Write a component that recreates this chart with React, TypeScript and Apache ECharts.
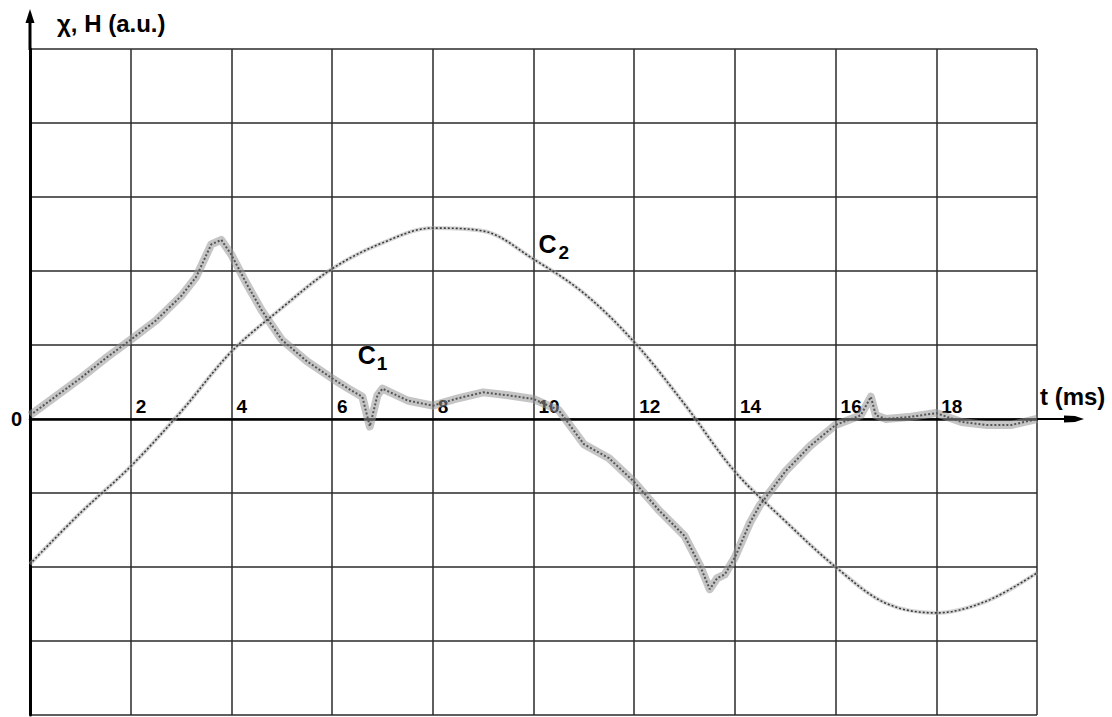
import React, { useEffect, useRef } from "react";
import * as echarts from "echarts";

// ---- Data (t in ms, value in a.u.; one grid cell = 1 a.u.) ----
const c1Time = [0, 0.5, 1, 1.5, 2, 2.5, 3, 3.3, 3.6, 3.8, 4, 4.3, 4.6, 5, 5.5, 6, 6.3, 6.6, 6.75, 6.9, 7, 7.5, 8, 8.5, 9, 9.5, 10, 10.5, 11, 11.5, 12, 12.5, 13, 13.3, 13.5, 13.65, 13.8, 14, 14.3, 14.5, 15, 15.5, 16, 16.5, 16.7, 16.8, 17, 17.5, 18, 18.5, 19, 19.5, 20];
const c1Value = [0.05, 0.3, 0.55, 0.82, 1.07, 1.33, 1.66, 1.92, 2.36, 2.42, 2.22, 1.83, 1.47, 1.07, 0.78, 0.55, 0.42, 0.3, -0.1, 0.32, 0.41, 0.25, 0.18, 0.28, 0.36, 0.32, 0.27, 0.12, -0.34, -0.53, -0.85, -1.24, -1.58, -1.97, -2.3, -2.15, -2.1, -1.87, -1.4, -1.16, -0.71, -0.36, -0.08, 0.05, 0.3, 0.05, 0.0, 0.03, 0.08, -0.04, -0.08, -0.08, 0.0];

const c2Time = [0, 1, 2, 3, 4, 5, 6, 7, 8, 9, 10, 11, 12, 13, 14, 15, 16, 17, 18, 19, 20];
const c2Value = [-1.96, -1.27, -0.64, 0.1, 0.91, 1.5, 2.03, 2.38, 2.58, 2.54, 2.16, 1.7, 1.04, 0.2, -0.71, -1.38, -2.0, -2.49, -2.62, -2.46, -2.08];

const xTickLabels = ["2", "4", "6", "8", "10", "12", "14", "16", "18"];
const yTitle = "\u03c7, H (a.u.)";
const xTitle = "t (ms)";

const X_MIN = 0;
const X_MAX = 20;
const X_STEP = 2;
const Y_MIN = -4;
const Y_MAX = 5;

const W = 1112;
const H = 717;
const GRID = { left: 30, top: 49, right: 75, bottom: 2 };
const FONT = 'Arial, "Liberation Sans", Helvetica, sans-serif';

export default function App() {
  const ref = useRef<HTMLDivElement>(null);

  useEffect(() => {
    document.body.style.margin = "0";
    if (!ref.current) return;
    const chart = echarts.init(ref.current, undefined, { renderer: "svg", width: W, height: H });

    const gw = W - GRID.left - GRID.right;
    const gh = H - GRID.top - GRID.bottom;
    const px = (t: number) => GRID.left + ((t - X_MIN) / (X_MAX - X_MIN)) * gw;
    const py = (v: number) => GRID.top + ((Y_MAX - v) / (Y_MAX - Y_MIN)) * gh;
    const zeroY = py(0);
    const rightX = px(X_MAX);
    const bottomY = H - GRID.bottom;

    const c1 = c1Time.map((t, i) => [t, c1Value[i]]);
    const c2 = c2Time.map((t, i) => [t, c2Value[i]]);

    const label = (text: string, x: number, y: number, size: number, align = "left") => ({
      type: "text",
      x,
      y,
      silent: true,
      z: 10,
      style: {
        text,
        fill: "#000",
        font: `bold ${size}px ${FONT}`,
        textAlign: align,
        textVerticalAlign: "middle",
      },
    });

    const tickLabelStyle = {
      color: "#000",
      fontSize: 19,
      fontWeight: "bold",
      fontFamily: FONT,
    };

    chart.setOption({
      animation: false,
      backgroundColor: "#fff",
      grid: { left: GRID.left, top: GRID.top, right: GRID.right, bottom: GRID.bottom, containLabel: false, outerBoundsMode: "none" },
      xAxis: [
        {
          // grid (vertical lines)
          type: "value",
          min: X_MIN,
          max: X_MAX,
          interval: X_STEP,
          axisLine: { show: false },
          axisTick: { show: false },
          axisLabel: { show: false },
          splitLine: { show: true, lineStyle: { color: "#2a2a2a", width: 1.5 } },
        },
        {
          // t axis drawn at value 0
          type: "value",
          min: X_MIN,
          max: X_MAX,
          interval: X_STEP,
          position: "bottom",
          offset: -(bottomY - zeroY),
          axisLine: { show: true, onZero: false, lineStyle: { color: "#000", width: 2.5 } },
          axisTick: { show: false },
          splitLine: { show: false },
          axisLabel: {
            inside: true,
            align: "left",
            verticalAlign: "bottom",
            margin: 3,
            padding: [0, 0, 0, 5],
            showMinLabel: false,
            showMaxLabel: false,
            ...tickLabelStyle,
            formatter: (v: number) => {
              const idx = Math.round(v / X_STEP) - 1;
              return idx >= 0 && idx < xTickLabels.length ? xTickLabels[idx] : "";
            },
          },
        },
      ],
      yAxis: {
        type: "value",
        min: Y_MIN,
        max: Y_MAX,
        interval: 1,
        axisLine: { show: true, onZero: false, lineStyle: { color: "#000", width: 3 } },
        axisTick: { show: false },
        splitLine: { show: true, lineStyle: { color: "#2a2a2a", width: 1.5 } },
        axisLabel: {
          margin: 8,
          ...tickLabelStyle,
          fontSize: 20,
          formatter: (v: number) => (v === 0 ? "0" : ""),
        },
      },
      series: [
        {
          name: "C1 band",
          type: "line",
          xAxisIndex: 0,
          data: c1,
          symbol: "none",
          silent: true,
          z: 3,
          lineStyle: { color: "rgba(150,150,150,0.55)", width: 8, join: "round" },
        },
        {
          name: "C1",
          type: "line",
          xAxisIndex: 0,
          data: c1,
          symbol: "none",
          silent: true,
          z: 4,
          lineStyle: { color: "#555", width: 2, type: [2, 2] },
        },
        {
          name: "C2 band",
          type: "line",
          xAxisIndex: 0,
          data: c2,
          smooth: 0.35,
          symbol: "none",
          silent: true,
          z: 3,
          lineStyle: { color: "rgba(170,170,170,0.5)", width: 4 },
        },
        {
          name: "C2",
          type: "line",
          xAxisIndex: 0,
          data: c2,
          smooth: 0.35,
          symbol: "none",
          silent: true,
          z: 4,
          lineStyle: { color: "#3a3a3a", width: 1.6, type: [2, 2] },
        },
      ],
      graphic: [
        { type: "line", silent: true, shape: { x1: GRID.left, y1: GRID.top + 1, x2: GRID.left, y2: 20 }, style: { stroke: "#000", lineWidth: 3 } },
        { type: "polygon", silent: true, shape: { points: [[GRID.left, 9], [GRID.left - 4.5, 23], [GRID.left + 4.5, 23]] }, style: { fill: "#000" } },
        { type: "line", silent: true, shape: { x1: rightX, y1: zeroY, x2: rightX + 30, y2: zeroY }, style: { stroke: "#000", lineWidth: 2 } },
        {
          type: "polygon",
          silent: true,
          shape: { points: [[rightX + 27, zeroY - 3.5], [rightX + 38, zeroY - 3], [rightX + 47, zeroY], [rightX + 38, zeroY + 3], [rightX + 27, zeroY + 3.5]] },
          style: { fill: "#000" },
        },
        label(yTitle, 57, 23, 24),
        label(xTitle, 1040, zeroY - 23, 24),
        label("C", px(6.51), py(0.86), 25),
        label("1", px(6.51) + 19, py(0.86) + 8, 19),
        label("C", px(10.1), py(2.37), 25),
        label("2", px(10.1) + 20, py(2.37) + 9, 19),
      ],
    });

    return () => chart.dispose();
  }, []);

  return <div ref={ref} style={{ width: W, height: H }} />;
}
